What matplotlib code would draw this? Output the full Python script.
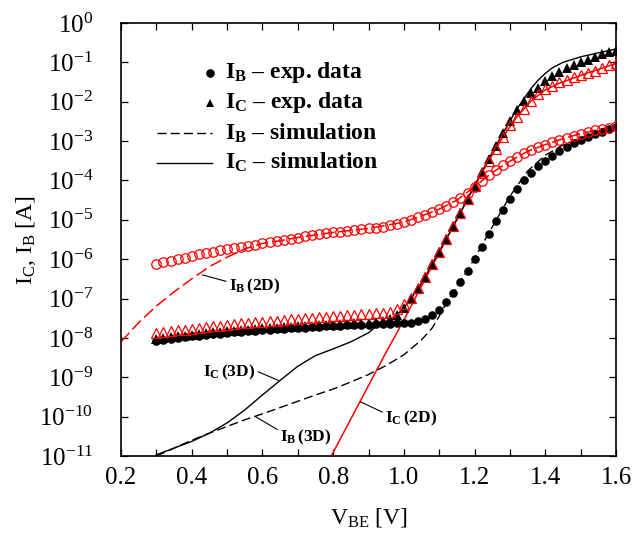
"""
Gummel plot: measured and simulated I_B / I_C vs V_BE (2D and 3D models).
"""

import matplotlib
matplotlib.use('Agg')
import matplotlib.pyplot as plt
import numpy as np

# --- Config ---
RED = '#ff0000'
BLACK = '#000000'
SERIF = 'Liberation Serif'

plt.rcParams['font.family'] = [SERIF, 'DejaVu Serif']
plt.rcParams['mathtext.fontset'] = 'custom'
plt.rcParams['mathtext.rm'] = SERIF
plt.rcParams['mathtext.it'] = SERIF + ':italic'
plt.rcParams['mathtext.bf'] = SERIF + ':bold'

# --- Data (currents given as log10 of amperes) ---
# sweep of the measured / marker data
V_EXP = np.round(np.arange(0.30, 1.6001, 0.02), 2)

# I_B exp. data (black filled circles)
IB_EXP = [-8.08, -8.05, -8.02, -8.00, -7.98, -7.96, -7.94, -7.92, -7.90, -7.89,
          -7.87, -7.86, -7.84, -7.83, -7.82, -7.80, -7.79, -7.78, -7.77, -7.76,
          -7.75, -7.74, -7.73, -7.72, -7.71, -7.70, -7.69, -7.68, -7.68, -7.67,
          -7.66, -7.65, -7.65, -7.64, -7.63, -7.62, -7.61, -7.58, -7.52, -7.43,
          -7.30, -7.10, -6.86, -6.58, -6.30, -6.00, -5.68, -5.35, -5.04, -4.74,
          -4.46, -4.21, -3.99, -3.80, -3.64, -3.50, -3.38, -3.26, -3.15, -3.06,
          -2.97, -2.90, -2.83, -2.76, -2.70, -2.64]

# I_C exp. data (black filled triangles)
IC_EXP = [-8.02, -8.00, -7.98, -7.96, -7.94, -7.92, -7.90, -7.88, -7.86, -7.85,
          -7.83, -7.82, -7.80, -7.79, -7.78, -7.76, -7.75, -7.74, -7.73, -7.72,
          -7.71, -7.70, -7.69, -7.68, -7.67, -7.66, -7.65, -7.64, -7.63, -7.62,
          -7.61, -7.60, -7.57, -7.52, -7.42, -7.24, -7.02, -6.76, -6.46, -6.13,
          -5.82, -5.48, -5.16, -4.82, -4.48, -4.13, -3.79, -3.45, -3.12, -2.80,
          -2.49, -2.22, -1.97, -1.78, -1.64, -1.48, -1.35, -1.24, -1.15, -1.07,
          -1.00, -0.93, -0.86, -0.80, -0.75, -0.71]

# 2D points, I_B (red open circles)
IB_2D_PTS = [-6.13, -6.08, -6.04, -6.00, -5.96, -5.92, -5.88, -5.85, -5.81, -5.78,
             -5.75, -5.72, -5.69, -5.66, -5.63, -5.60, -5.57, -5.54, -5.51, -5.48,
             -5.45, -5.42, -5.39, -5.36, -5.34, -5.32, -5.30, -5.28, -5.26, -5.24,
             -5.22, -5.20, -5.18, -5.14, -5.10, -5.06, -5.00, -4.94, -4.87, -4.80,
             -4.73, -4.65, -4.55, -4.44, -4.32, -4.16, -4.01, -3.87, -3.74, -3.62,
             -3.51, -3.40, -3.31, -3.22, -3.15, -3.09, -3.03, -2.97, -2.91, -2.86,
             -2.81, -2.77, -2.73, -2.70, -2.66, -2.62]

# 2D points, I_C (red open triangles)
IC_2D_PTS = [-7.87, -7.85, -7.83, -7.81, -7.79, -7.77, -7.75, -7.73, -7.71, -7.69,
             -7.67, -7.65, -7.63, -7.62, -7.60, -7.59, -7.57, -7.56, -7.54, -7.53,
             -7.52, -7.50, -7.49, -7.48, -7.46, -7.45, -7.44, -7.42, -7.41, -7.40,
             -7.39, -7.38, -7.36, -7.33, -7.26, -7.14, -6.98, -6.74, -6.45, -6.12,
             -5.82, -5.48, -5.16, -4.82, -4.48, -4.13, -3.80, -3.50, -3.20, -2.90,
             -2.60, -2.38, -2.19, -1.98, -1.80, -1.69, -1.60, -1.51, -1.45, -1.38,
             -1.33, -1.28, -1.22, -1.14, -1.08, -1.02]

# I_B simulation, 3D (black dashed)
IB_3D_V = [0.30, 0.35, 0.40, 0.45, 0.50, 0.55, 0.60, 0.65, 0.70, 0.75,
           0.80, 0.85, 0.90, 0.95, 1.00, 1.05, 1.08, 1.10, 1.12, 1.14,
           1.16, 1.18, 1.20, 1.25, 1.30, 1.35, 1.40, 1.45, 1.50, 1.55, 1.60]
IB_3D = [-11.00, -10.80, -10.60, -10.42, -10.25, -10.08, -9.93, -9.77, -9.61, -9.45,
         -9.30, -9.12, -8.93, -8.70, -8.43, -8.05, -7.75, -7.45, -7.12, -6.84,
         -6.56, -6.28, -5.98, -5.18, -4.40, -3.76, -3.36, -3.10, -2.92, -2.78, -2.64]

# I_C simulation, 3D (black solid)
IC_3D_V = [0.30, 0.35, 0.40, 0.45, 0.50, 0.55, 0.60, 0.65, 0.70, 0.75,
           0.80, 0.85, 0.90, 0.92, 0.95, 0.98, 1.00, 1.04, 1.08, 1.12,
           1.16, 1.20, 1.24, 1.28, 1.32, 1.34, 1.36, 1.38, 1.40, 1.42,
           1.45, 1.50, 1.55, 1.60]
IC_3D = [-10.97, -10.80, -10.63, -10.42, -10.16, -9.83, -9.45, -9.08, -8.72, -8.45,
         -8.28, -8.10, -7.87, -7.72, -7.58, -7.42, -7.24, -6.76, -6.13, -5.48,
         -4.82, -4.13, -3.45, -2.80, -2.18, -1.92, -1.66, -1.45, -1.28, -1.14,
         -1.00, -0.86, -0.76, -0.66]

# I_B simulation, 2D (red dashed)
IB_2D_V = [0.20, 0.25, 0.30, 0.35, 0.40, 0.45, 0.50, 0.55, 0.60, 0.65,
           0.70, 0.80, 0.90, 1.00, 1.05, 1.10, 1.15, 1.20, 1.25, 1.30,
           1.35, 1.40, 1.45, 1.50, 1.55, 1.60]
IB_2D = [-8.10, -7.61, -7.19, -6.83, -6.50, -6.19, -5.95, -5.74, -5.60, -5.53,
         -5.45, -5.32, -5.22, -5.06, -4.90, -4.73, -4.50, -4.16, -3.80, -3.51,
         -3.26, -3.09, -2.94, -2.81, -2.71, -2.62]

# I_C simulation, 2D (red solid)
IC_2D_V = [0.79, 0.85, 0.90, 0.95, 1.00, 1.04, 1.08, 1.12, 1.16, 1.20,
           1.24, 1.28, 1.32, 1.36, 1.40, 1.44, 1.48, 1.52, 1.56, 1.60]
IC_2D = [-11.08, -10.06, -9.21, -8.36, -7.55, -6.85, -6.17, -5.50, -4.82, -4.13,
         -3.50, -2.90, -2.38, -1.98, -1.70, -1.53, -1.40, -1.27, -1.15, -1.03]

LEGEND = [r'$\mathbf{I_B}$ – exp. data', r'$\mathbf{I_C}$ – exp. data',
          r'$\mathbf{I_B}$ – simulation', r'$\mathbf{I_C}$ – simulation']


def amps(logs):
    return 10.0 ** np.asarray(logs)


fig = plt.figure(figsize=(6.35, 5.33), dpi=100)
ax = fig.add_axes([0.1906, 0.1445, 0.7795, 0.8124])

# --- simulation curves ---
ax.plot(IB_2D_V, amps(IB_2D), color=RED, lw=1.1, dashes=(8, 3), zorder=2)
ax.plot(IC_2D_V, amps(IC_2D), color=RED, lw=1.1, zorder=2)
ax.plot(IB_3D_V, amps(IB_3D), color=BLACK, lw=1.0, dashes=(6.5, 3), zorder=2)
ax.plot(IC_3D_V, amps(IC_3D), color=BLACK, lw=1.0, zorder=2)

# --- markers ---
ax.plot(V_EXP, amps(IB_EXP), 'o', color=BLACK, ms=6.2, mew=0, zorder=3)
ax.plot(V_EXP, amps(IC_EXP), '^', color=BLACK, ms=6.6, mew=0, zorder=3)
ax.plot(V_EXP, amps(IB_2D_PTS), 'o', mfc='none', mec=RED, ms=6.8, mew=0.9, zorder=4)
ax.plot(V_EXP, amps(IC_2D_PTS), '^', mfc='none', mec=RED, ms=7.0, mew=0.9, zorder=4)

# --- axes ---
ax.set_xlim(0.2, 1.6)
ax.set_yscale('log')
ax.set_ylim(1e-11, 1e0)
ax.set_xticks(np.arange(0.2, 1.61, 0.2))
ax.set_xticks(np.arange(0.3, 1.6, 0.2), minor=True)
ax.set_xticklabels(['%.1f' % v for v in np.arange(0.2, 1.61, 0.2)])
ax.set_yticks([10.0 ** k for k in range(-11, 1)])
ax.yaxis.set_minor_locator(matplotlib.ticker.NullLocator())
ax.tick_params(which='both', direction='in', top=True, right=True,
               length=5, width=0.9, labelsize=18)
ax.tick_params(axis='x', pad=8)
ax.tick_params(axis='y', pad=20)
for s in ax.spines.values():
    s.set_linewidth(1.2)

ax.set_xlabel(r'V$_\mathrm{BE}$ [V]', fontsize=17, labelpad=12)
ax.set_ylabel(r'I$_\mathrm{C}$, I$_\mathrm{B}$ [A]', fontsize=17, labelpad=1)

# --- legend (drawn by hand: sample left, marker at its right end) ---
rows_y = [0.885, 0.816, 0.746, 0.677]
ax.plot([0.18], [rows_y[0]], 'o', color=BLACK, ms=6.2, mew=0, transform=ax.transAxes)
ax.plot([0.18], [rows_y[1]], '^', color=BLACK, ms=6.2, mew=0, transform=ax.transAxes)
ax.plot([0.072, 0.184], [rows_y[2]] * 2, color=BLACK, lw=1.0, dashes=(6.5, 3),
        transform=ax.transAxes)
ax.plot([0.072, 0.184], [rows_y[3]] * 2, color=BLACK, lw=1.0, transform=ax.transAxes)
for y, label in zip(rows_y, LEGEND):
    ax.text(0.21, y, label, transform=ax.transAxes, fontsize=17,
            fontweight='bold', ha='left', va='center')

# --- curve labels ---
lead = dict(arrowstyle='-', color=BLACK, lw=0.8, shrinkA=0, shrinkB=0)
ax.annotate(r'$\mathbf{I_B}\,$(2D)', xy=(0.43, 10 ** -6.40), xytext=(0.505, 10 ** -6.68),
            fontsize=12.5, fontweight='bold', ha='left', va='center',
            arrowprops=dict(lead, relpos=(0, 0.7)))
ax.annotate(r'$\mathbf{I_C}\,$(3D)', xy=(0.645, 10 ** -9.08), xytext=(0.58, 10 ** -8.88),
            fontsize=12.5, fontweight='bold', ha='right', va='center',
            arrowprops=dict(lead, relpos=(1, 0.6)))
ax.annotate(r'$\mathbf{I_B}\,$(3D)', xy=(0.58, 10 ** -10.0), xytext=(0.65, 10 ** -10.54),
            fontsize=12.5, fontweight='bold', ha='left', va='center',
            arrowprops=dict(lead, relpos=(0, 0.85)))
ax.annotate(r'$\mathbf{I_C}\,$(2D)', xy=(0.876, 10 ** -9.62), xytext=(0.947, 10 ** -10.04),
            fontsize=12.5, fontweight='bold', ha='left', va='center',
            arrowprops=dict(lead, relpos=(0, 0.75)))

fig.savefig('out.png', dpi=100)
